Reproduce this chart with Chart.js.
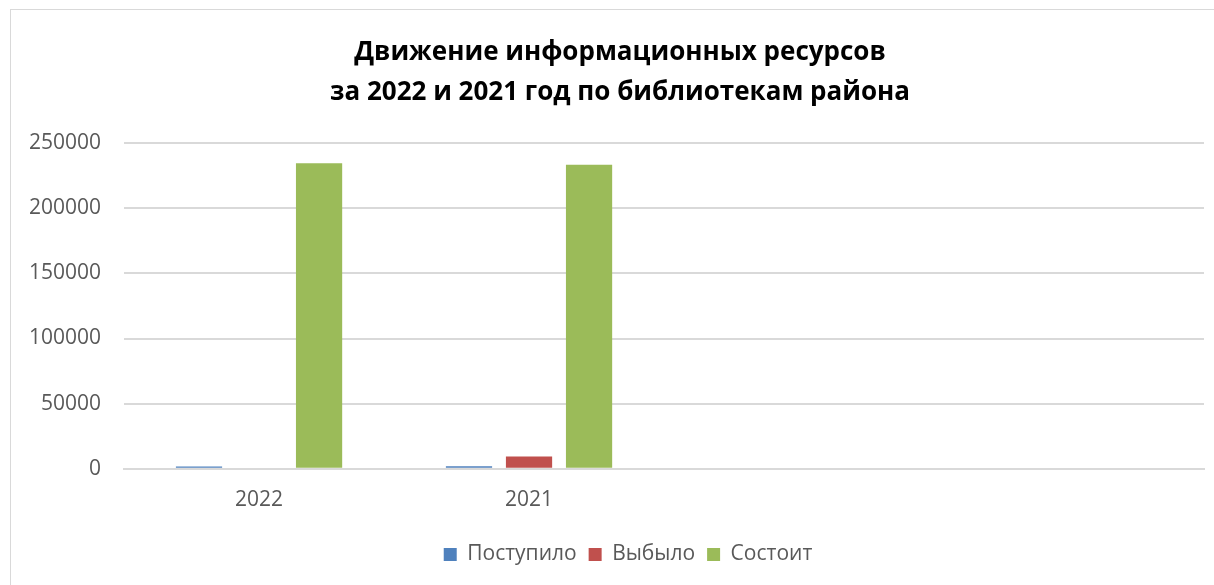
<!DOCTYPE html>
<html>
<head>
<meta charset="utf-8">
<script src="https://cdn.jsdelivr.net/npm/chart.js@4"></script>
<style>
    html, body { margin: 0; padding: 0; background: #fff; }
    #frame {
        position: absolute; left: 10px; top: 9px; width: 1204px; height: 576px;
        border-left: 1px solid #d9d9d9; border-top: 1px solid #d9d9d9;
    }
    #wrap { position: absolute; left: 0; top: 0; width: 1214px; height: 585px; }
</style>
</head>
<body>
<div id="frame"></div>
<div id="wrap"><canvas id="resourcesChart"></canvas></div>
<script>
const categories = ['2022', '2021', '', ''];
const receivedValues = [1800, 1900, null, null];
const removedValues = [900, 9500, null, null];
const holdingValues = [234500, 233300, null, null];
const yTicks = [0, 50000, 100000, 150000, 200000, 250000];

const textColor = '#595959';
const gridColor = '#d9d9d9';

// the original chart box is wider than the visible part, so title and legend sit a bit right of centre
const shiftBlocks = {
    id: 'shiftBlocks',
    afterLayout(chart) {
        if (chart.titleBlock) chart.titleBlock.left = 36;
        if (chart.legend) chart.legend.left = 52;
    }
};

new Chart(document.getElementById('resourcesChart').getContext('2d'), {
    type: 'bar',
    data: {
        labels: categories,
        datasets: [
            { label: 'Поступило', data: receivedValues, backgroundColor: '#4f81bd' },
            { label: 'Выбыло', data: removedValues, backgroundColor: '#c0504d' },
            { label: 'Состоит', data: holdingValues, backgroundColor: '#9bbb59' }
        ]
    },
    plugins: [shiftBlocks],
    options: {
        responsive: true,
        maintainAspectRatio: false,
        animation: false,
        datasets: {
            bar: { categoryPercentage: 0.667, barPercentage: 0.77 }
        },
        layout: { padding: { left: 6, right: 10, top: 33, bottom: 10 } },
        plugins: {
            title: {
                display: true,
                text: ['Движение информационных ресурсов', 'за 2022 и 2021 год по библиотекам района'],
                color: '#000',
                font: { family: 'Open Sans', size: 26, weight: 'bold', lineHeight: 1.54 },
                padding: { top: 0, bottom: 30 }
            },
            legend: {
                position: 'bottom',
                labels: {
                    color: textColor,
                    font: { family: 'Open Sans', size: 21 },
                    boxWidth: 13,
                    boxHeight: 13,
                    padding: 12
                }
            },
            tooltip: { enabled: false }
        },
        scales: {
            x: {
                grid: { display: false, drawTicks: false },
                border: { color: gridColor, width: 2 },
                ticks: { color: textColor, font: { family: 'Open Sans', size: 21 }, padding: 19 }
            },
            y: {
                min: 0,
                max: 250000,
                afterBuildTicks: axis => { axis.ticks = yTicks.map(v => ({ value: v })); },
                grid: { color: gridColor, lineWidth: 2, drawTicks: false },
                border: { display: false },
                ticks: {
                    color: textColor,
                    font: { family: 'Open Sans', size: 21 },
                    padding: 23,
                    callback: value => String(value)
                }
            }
        }
    }
});
</script>
</body>
</html>
